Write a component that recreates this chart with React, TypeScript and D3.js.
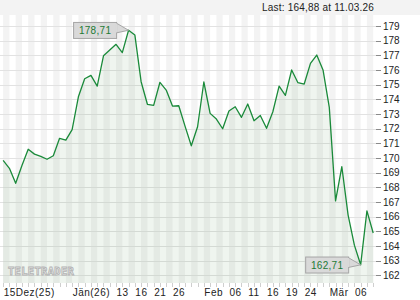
import React from "react";
import * as d3 from "d3";

const dates = [
  "2025-12-15","2025-12-16","2025-12-17","2025-12-18","2025-12-19","2025-12-22","2025-12-23","2025-12-24","2025-12-29","2025-12-30","2025-12-31",
  "2026-01-02","2026-01-05","2026-01-06","2026-01-07","2026-01-08","2026-01-09","2026-01-12","2026-01-13","2026-01-14","2026-01-15","2026-01-16",
  "2026-01-19","2026-01-20","2026-01-21","2026-01-22","2026-01-23","2026-01-26","2026-01-27","2026-01-28","2026-01-29","2026-01-30",
  "2026-02-02","2026-02-03","2026-02-04","2026-02-05","2026-02-06","2026-02-09","2026-02-10","2026-02-11","2026-02-12","2026-02-13",
  "2026-02-16","2026-02-17","2026-02-18","2026-02-19","2026-02-20","2026-02-23","2026-02-24","2026-02-25","2026-02-26","2026-02-27",
  "2026-03-02","2026-03-03","2026-03-04","2026-03-05","2026-03-06","2026-03-09","2026-03-10","2026-03-11",
];

const values = [
  169.83, 169.29, 168.27, 169.48, 170.59, 170.26, 170.11, 169.91, 170.15, 171.34, 171.22,
  171.93, 174.17, 175.40, 175.63, 174.90, 176.97, 177.36, 177.75, 177.18, 178.71, 178.39,
  175.20, 173.66, 173.59, 175.16, 174.63, 173.54, 173.56, 172.17, 170.83, 172.13,
  175.18, 173.04, 172.65, 171.99, 173.20, 173.49, 172.77, 173.68, 172.54, 172.90,
  172.02, 173.15, 174.90, 174.27, 176.00, 175.13, 175.04, 176.45, 177.02, 176.00,
  173.45, 167.07, 169.40, 166.10, 164.05, 162.71, 166.39, 164.88,
];

const tickDates = [
  "2025-12-15","2026-01-02","2026-01-13","2026-01-16","2026-01-21","2026-01-26",
  "2026-02-02","2026-02-06","2026-02-11","2026-02-16","2026-02-19","2026-02-24",
  "2026-03-02","2026-03-06",
];
const tickLabels = ["15Dez(25)","Jän(26)","13","16","21","26","Feb","06","11","16","19","24","Mär","06"];

const yTicks = [162,163,164,165,166,167,168,169,170,171,172,173,174,175,176,177,178,179];
const lastLabel = "Last: 164,88 at 11.03.26";
const watermark = "TELETRADER";

const W = 420;
const H = 300;
const plotLeft = 0;
const plotRight = 376;
const plotTop = 15;
const plotBottom = 283;
const FONT = "'Liberation Sans', Arial, sans-serif";

const fmt = (v: number) => d3.format(".2f")(v).replace(".", ",");

export default function App() {
  const x = d3.scalePoint<string>().domain(dates).range([3.13, 373.2]);
  const y = d3.scaleLinear().domain([161.47, 179.75]).range([plotBottom, plotTop]);
  const data = dates.map((d, i) => ({ d, v: values[i] }));

  const line = d3.line<{ d: string; v: number }>().x((p) => x(p.d)!).y((p) => y(p.v));
  const area = d3
    .area<{ d: string; v: number }>()
    .x((p) => x(p.d)!)
    .y0(plotBottom)
    .y1((p) => y(p.v));

  const stripes: { x0: number; x1: number }[] = [];
  for (let i = 0; i + 1 < dates.length; i += 2) {
    stripes.push({ x0: x(dates[i])!, x1: x(dates[i + 1])! });
  }

  const maxI = d3.maxIndex(values);
  const minI = d3.minIndex(values);

  const callout = (i: number) => {
    const px = x(dates[i])!;
    const py = y(values[i]);
    const bw = 43;
    const bh = 16;
    const right = px - 12.5;
    const left = right - bw;
    const top = py - 8.3;
    return (
      <g key={"c" + i}>
        <path
          d={`M${right},${top + 1}L${px},${py}L${right},${top + 11}Z`}
          fill="#d9d9d9"
          stroke="#a6a6a6"
          strokeWidth={1}
        />
        <rect x={left + 0.5} y={top + 0.5} width={bw} height={bh} fill="#d9d9d9" stroke="#a6a6a6" strokeWidth={1} />
        <rect x={right - 1} y={top + 1.5} width={2} height={9} fill="#d9d9d9" />
        <text
          x={left + bw / 2 + 0.5}
          y={top + 12}
          textAnchor="middle"
          fontSize={10}
          fontFamily={FONT}
          letterSpacing={0.3}
          fill="#1d7a35"
        >
          {fmt(values[i])}
        </text>
      </g>
    );
  };

  return (
    <svg
      width={W}
      height={H}
      style={{ position: "absolute", left: 0, top: 0, background: "#fff" }}
      fontFamily={FONT}
    >
      <rect x={0} y={0} width={W} height={H} fill="#ffffff" />
      <rect x={0} y={0} width={W} height={plotTop} fill="#f3f3f3" />
      {stripes.map((s, i) => (
        <rect key={"s" + i} x={s.x0} y={plotTop} width={s.x1 - s.x0} height={plotBottom - plotTop} fill="#f3f3f3" />
      ))}
      {yTicks.map((t) => (
        <g key={"y" + t}>
          <line x1={plotLeft} x2={plotRight} y1={Math.round(y(t)) + 0.5} y2={Math.round(y(t)) + 0.5} stroke="#e2e2e2" />
          <line x1={plotRight} x2={381} y1={Math.round(y(t)) + 0.5} y2={Math.round(y(t)) + 0.5} stroke="#8a8a8a" />
          <text x={383} y={y(t) + 3.6} fontSize={10} fill="#222">
            {t}
          </text>
        </g>
      ))}
      <path d={area(data)!} fill="rgb(46,125,50)" fillOpacity={0.08} />
      <path d={line(data)!} fill="none" stroke="#1a8a3a" strokeWidth={1.3} strokeLinejoin="round" />
      <text
        x={8}
        y={275}
        fontSize={10.5}
        fontWeight="bold"
        fontFamily="'DejaVu Sans Mono', monospace"
        letterSpacing={0.3}
        fill="#f4f4f4"
        stroke="#b4b4b4"
        strokeWidth={0.9}
      >
        {watermark}
      </text>
      {dates.map((d) => (
        <line key={"t" + d} x1={Math.round(x(d)!) + 0.5} x2={Math.round(x(d)!) + 0.5} y1={plotBottom} y2={plotBottom + 4} stroke="#cfcfcf" />
      ))}
      {tickDates.map((d, i) => (
        <text key={"l" + i} x={x(d)! + 0.5} y={296} fontSize={10} letterSpacing={0.5} fill="#222">
          {tickLabels[i]}
        </text>
      ))}
      {callout(maxI)}
      {callout(minI)}
      <text x={374} y={11} textAnchor="end" fontSize={10} letterSpacing={0.2} fill="#222">
        {lastLabel}
      </text>
    </svg>
  );
}
